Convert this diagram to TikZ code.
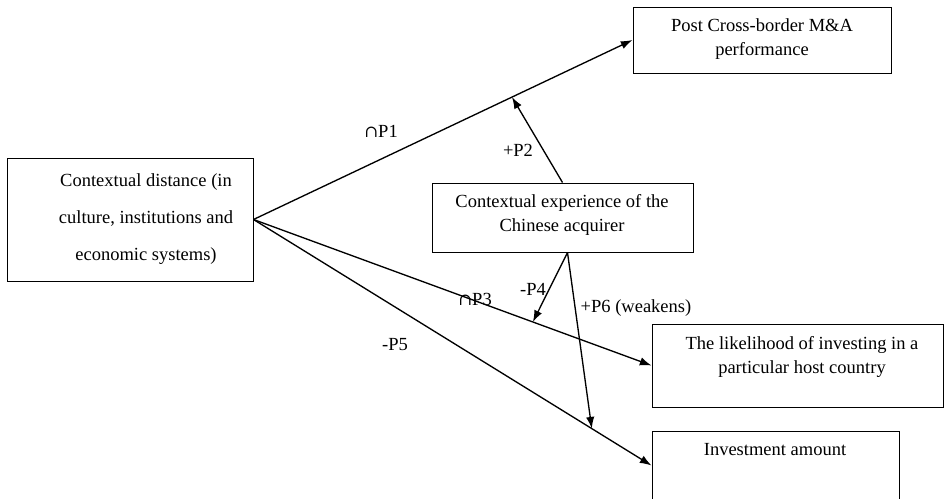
\documentclass[tikz,border=0pt]{standalone}
\usepackage{fontspec}
\setmainfont{Liberation Serif}
\newfontfamily\capfont{DejaVu Serif}
\usetikzlibrary{arrows.meta}

\newcommand{\capsym}{{\capfont\fontsize{10}{12}\selectfont ∩}}

\begin{document}
\begin{tikzpicture}[x=0.6pt, y=-0.6pt, font=\fontsize{11.1}{14.8}\selectfont,
    box/.style={draw, line width=0.6pt, inner sep=0pt},
    txt/.style={align=center, inner sep=0pt},
    lbl/.style={inner sep=1pt},
    arr/.style={line width=0.8pt, -{Latex[length=7pt, width=5pt]}}]
    \useasboundingbox (0,0) rectangle (945,498);

    % boxes
    \node[box, minimum width=147.6pt, minimum height=73.8pt] (ctx) at (130,219.5) {};
    \node[box, minimum width=154.8pt, minimum height=39.6pt] (post) at (762,40) {};
    \node[box, minimum width=156.6pt, minimum height=41.4pt] (exp) at (562.5,217.5) {};
    \node[box, minimum width=174.6pt, minimum height=49.8pt] (lik) at (797.5,365.5) {};
    \node[box, minimum width=148.2pt, minimum height=41.4pt] (inv) at (775.5,465.5) {};

    % box texts
    \node[txt, font=\fontsize{11.1}{22.2}\selectfont] (ctxtext) at (146,219) {Contextual distance (in\\culture, institutions and\\economic systems)};
    \node[txt] (posttext) at (762,39) {Post Cross-border M\&A\\performance};
    \node[txt] (exptext) at (562,215) {Contextual experience of the\\Chinese acquirer};
    \node[txt] (liktext) at (802,357) {The likelihood of investing in a\\particular host country};
    \node[txt] (invtext) at (775,450) {Investment amount};

    % main effects
    \draw[arr] (ctx.east) -- (post.west);
    \draw[arr] (ctx.east) -- (lik.west);
    \draw[arr] (ctx.east) -- (inv.west);

    % moderating effects
    \path (ctx.east) -- (post.west) coordinate[pos=0.682] (p2end);
    \path (ctx.east) -- (lik.west) coordinate[pos=0.702] (p4end);
    \path (ctx.east) -- (inv.west) coordinate[pos=0.85] (p6end);
    \draw[arr] (exp.north) -- (p2end);
    \draw[arr] ([xshift=3pt]exp.south) -- (p4end);
    \draw[arr] ([xshift=3pt]exp.south) -- (p6end);

    % labels
    \node[lbl] (p1) at (381,131) {\capsym P1};
    \node[lbl] (p2) at (518,150) {+P2};
    \node[lbl] (p3) at (475,299) {\capsym P3};
    \node[lbl] (p4) at (533,289) {-P4};
    \node[lbl] (p5) at (395,345) {-P5};
    \node[lbl] (p6) at (636,308) {+P6 (weakens)};
\end{tikzpicture}
\end{document}
